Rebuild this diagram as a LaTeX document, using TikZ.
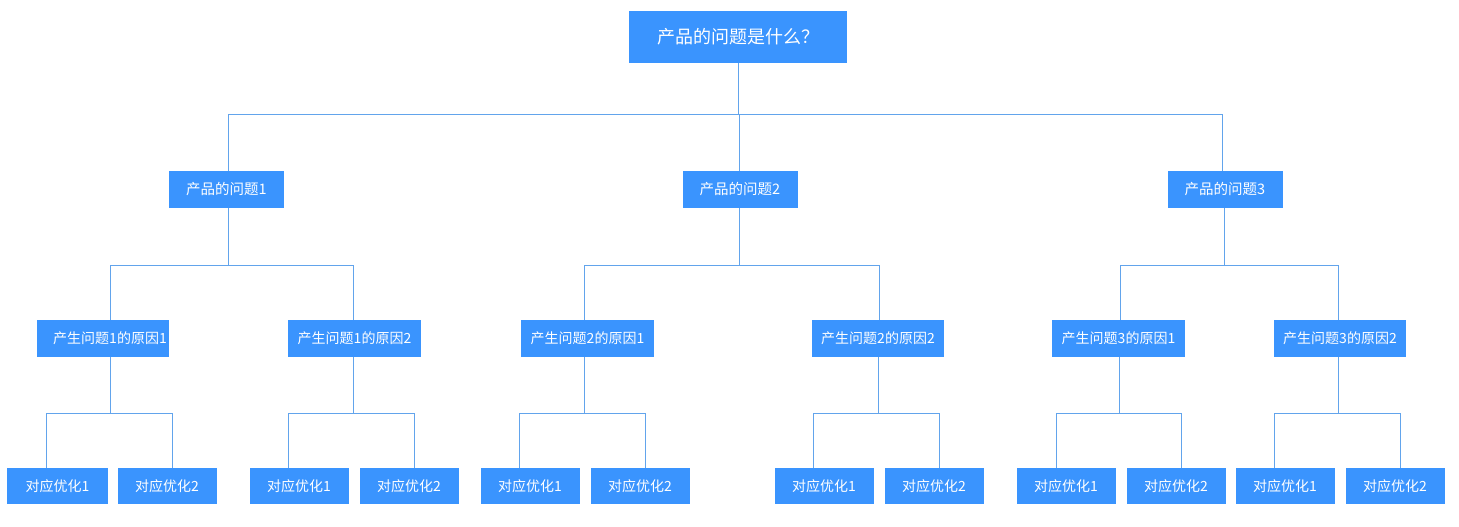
\documentclass[tikz,border=0pt]{standalone}
\usepackage{fontspec}
\newfontfamily\cjk{Noto Sans CJK SC}
\definecolor{boxblue}{HTML}{3A94FE}
\definecolor{lineblue}{HTML}{62A4EC}
\tikzset{
  box/.style={rectangle, fill=boxblue, text=white, inner sep=0pt, font=\cjk\fontsize{14}{16}\selectfont},
  rootbox/.style={box, minimum width=218pt, minimum height=52pt, font=\cjk\fontsize{18}{20}\selectfont},
  lone/.style={box, minimum width=115pt, minimum height=37pt, font=\cjk\fontsize{14.5}{16}\selectfont},
  ltwo/.style={box, minimum width=133pt, minimum height=37pt},
  lthree/.style={box, minimum width=99pt, minimum height=36pt},
  conn/.style={draw=lineblue, line width=1pt}
}
\begin{document}
\begin{tikzpicture}[x=1pt,y=-1pt]
\useasboundingbox (0,0) rectangle (1459,527);
% root
\node[rootbox] (root) at (738,37) {产品的问题是什么？};
% level 1
\node[lone] (q1) at (226.5,189.5) {产品的问题1};
\node[lone] (q2) at (740,189.5) {产品的问题2};
\node[lone] (q3) at (1225,189.5) {产品的问题3};
% level 2
\node[ltwo, minimum width=132pt] (p11) at (103,338.5) {\hspace*{14pt}产生问题1的原因1};
\node[ltwo] (p12) at (354.5,338.5) {产生问题1的原因2};
\node[ltwo] (p21) at (587.5,338.5) {产生问题2的原因1};
\node[ltwo, minimum width=132pt] (p22) at (878,338.5) {产生问题2的原因2};
\node[ltwo] (p31) at (1118.5,338.5) {产生问题3的原因1};
\node[ltwo, minimum width=132pt] (p32) at (1340,338.5) {产生问题3的原因2};
% level 3
\node[lthree, minimum width=101pt] (r111) at (57.5,486) {对应优化1};
\node[lthree] (r112) at (167,486) {对应优化2};
\node[lthree] (r121) at (299,486) {对应优化1};
\node[lthree] (r122) at (409,486) {对应优化2};
\node[lthree] (r211) at (530,486) {对应优化1};
\node[lthree] (r212) at (640,486) {对应优化2};
\node[lthree] (r221) at (824,486) {对应优化1};
\node[lthree] (r222) at (934,486) {对应优化2};
\node[lthree] (r311) at (1066,486) {对应优化1};
\node[lthree] (r312) at (1176,486) {对应优化2};
\node[lthree] (r321) at (1285,486) {对应优化1};
\node[lthree] (r322) at (1395,486) {对应优化2};
% bus junctions
\coordinate (b0) at (738,114);
\coordinate (b1) at (228,265);
\coordinate (b2) at (739,265);
\coordinate (b3) at (1224,265);
\coordinate (b11) at (110,413);
\coordinate (b12) at (353,413);
\coordinate (b21) at (584,413);
\coordinate (b22) at (878,413);
\coordinate (b31) at (1119,413);
\coordinate (b32) at (1338,413);
% root to level 1
\draw[conn] (root.south) -- (b0);
\draw[conn] (b0) -| ([xshift=1.5pt]q1.north);
\draw[conn] (b0) -| ([xshift=-1pt]q2.north);
\draw[conn] (b0) -| ([xshift=-3pt]q3.north);
% level 1 to level 2
\draw[conn] ([xshift=1.5pt]q1.south) -- (b1);
\draw[conn] (b1) -| ([xshift=7pt]p11.north);
\draw[conn] (b1) -| ([xshift=-1pt]p12.north);
\draw[conn] ([xshift=-1pt]q2.south) -- (b2);
\draw[conn] (b2) -| ([xshift=-3pt]p21.north);
\draw[conn] (b2) -| ([xshift=1pt]p22.north);
\draw[conn] ([xshift=-1pt]q3.south) -- (b3);
\draw[conn] (b3) -| ([xshift=1.5pt]p31.north);
\draw[conn] (b3) -| ([xshift=-2pt]p32.north);
% level 2 to level 3
\draw[conn] ([xshift=7pt]p11.south) -- (b11);
\draw[conn] (b11) -| ([xshift=-11.5pt]r111.north);
\draw[conn] (b11) -| ([xshift=5pt]r112.north);
\draw[conn] ([xshift=-1.5pt]p12.south) -- (b12);
\draw[conn] (b12) -| ([xshift=-11pt]r121.north);
\draw[conn] (b12) -| ([xshift=5pt]r122.north);
\draw[conn] ([xshift=-3.5pt]p21.south) -- (b21);
\draw[conn] (b21) -| ([xshift=-11pt]r211.north);
\draw[conn] (b21) -| ([xshift=5pt]r212.north);
\draw[conn] (p22.south) -- (b22);
\draw[conn] (b22) -| ([xshift=-11pt]r221.north);
\draw[conn] (b22) -| ([xshift=5pt]r222.north);
\draw[conn] ([xshift=0.5pt]p31.south) -- (b31);
\draw[conn] (b31) -| ([xshift=-10pt]r311.north);
\draw[conn] (b31) -| ([xshift=5pt]r312.north);
\draw[conn] ([xshift=-2pt]p32.south) -- (b32);
\draw[conn] (b32) -| ([xshift=-11pt]r321.north);
\draw[conn] (b32) -| ([xshift=5pt]r322.north);
\end{tikzpicture}
\end{document}
